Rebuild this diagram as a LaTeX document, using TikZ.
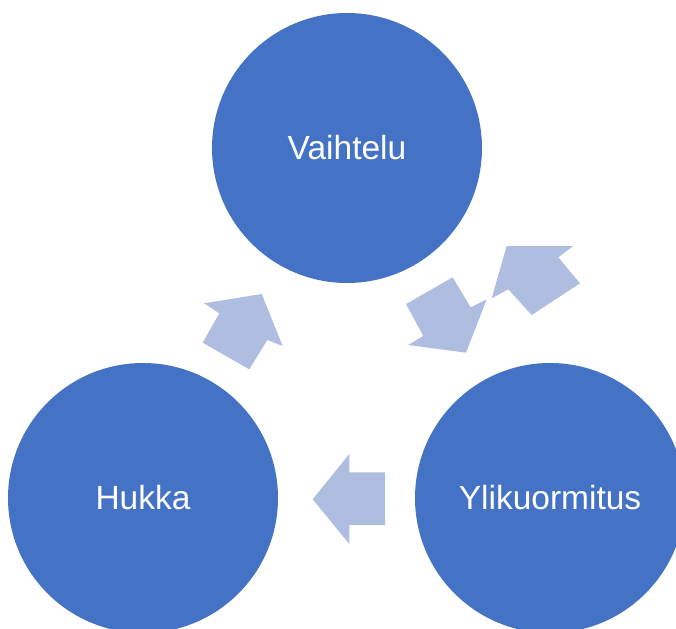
\documentclass[tikz,border=0pt]{standalone}
\usepackage{fontspec}
\setmainfont{Liberation Sans}
\definecolor{circblue}{HTML}{4472C4}
\definecolor{arrowblue}{HTML}{AFBDE0}
\begin{document}
\begin{tikzpicture}[x=1pt,y=-1pt,
  bigcircle/.style={circle,fill=circblue,draw=none,minimum size=270pt,inner sep=0pt,text=white,font=\fontsize{33.5}{38}\selectfont},
  blockarrow/.style={fill=arrowblue,draw=none}]
\useasboundingbox (0,0) rectangle (676,628);
\clip (0,0) rectangle (676,628);
\node[bigcircle] (top) at (347,148) {Vaihtelu};
\node[bigcircle] (left) at (143,498) {Hukka};
\node[bigcircle] (right) at (550,498) {Ylikuormitus};
% arrow left -> top
\fill[blockarrow] (261.7,294) -- (282.7,346) -- (267.3,340) -- (249.3,369.3) -- (202.7,342.7) -- (219.3,313.3) -- (204,303.3) -- cycle;
% arrow top -> right
\fill[blockarrow] (466,352.7) -- (408.3,345) -- (423.3,336) -- (406,304) -- (452.7,277.3) -- (470.7,307.3) -- (486.7,299.3) -- cycle;
% arrow right -> top
\fill[blockarrow] (506.7,246) -- (573.3,246) -- (558.3,257.3) -- (580,283.3) -- (531.7,315) -- (508.3,289.3) -- (491.7,298.3) -- cycle;
% arrow right -> left
\fill[blockarrow] (312.7,499.3) -- (349.3,454) -- (349.3,472.3) -- (385,472.3) -- (385,525) -- (349.3,525) -- (349.3,544) -- cycle;
\end{tikzpicture}
\end{document}
